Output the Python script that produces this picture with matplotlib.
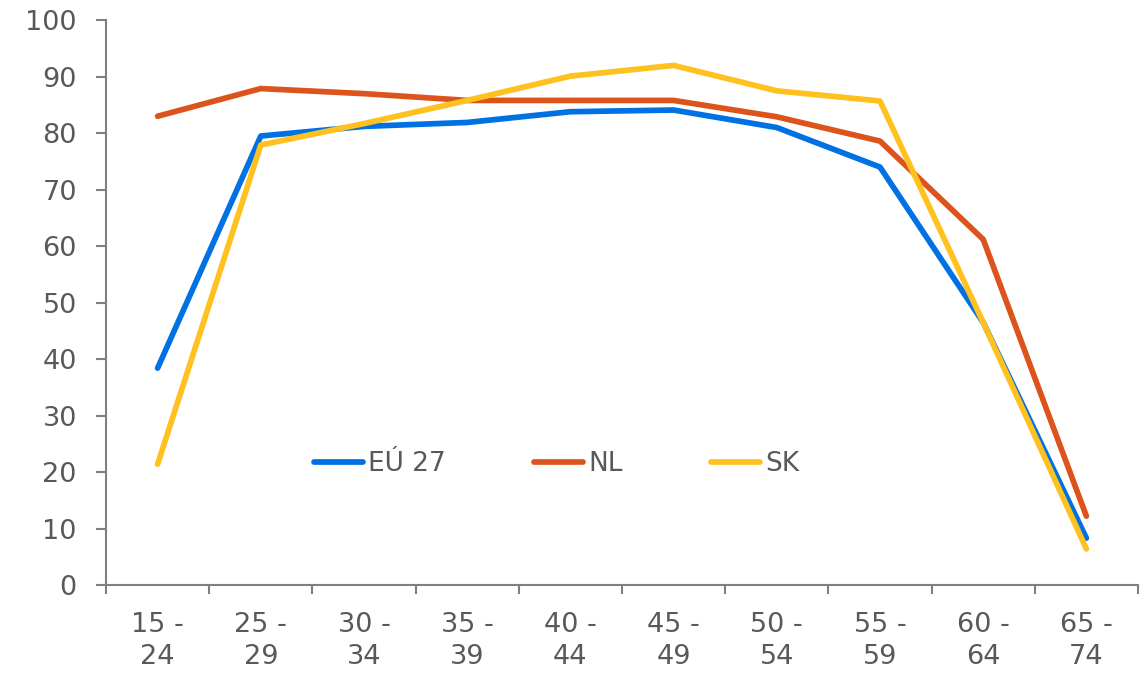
import matplotlib
matplotlib.use("Agg")
import matplotlib.pyplot as plt
import numpy as np

# ============================================================
# DATA
# ============================================================

age_groups = ["15 -\n24", "25 -\n29", "30 -\n34", "35 -\n39", "40 -\n44",
              "45 -\n49", "50 -\n54", "55 -\n59", "60 -\n64", "65 -\n74"]

eu27 = [38.4, 79.5, 81.2, 81.9, 83.8, 84.1, 81.0, 74.0, 46.5, 8.3]
nl = [83.0, 87.9, 87.0, 85.8, 85.8, 85.8, 82.9, 78.6, 61.2, 12.2]
sk = [21.4, 77.9, 81.7, 85.8, 90.1, 92.0, 87.5, 85.7, 46.5, 6.4]

series_names = ["EÚ 27", "NL", "SK"]
colors = ["#0071E3", "#DD531C", "#FFC11F"]

TEXT_COLOR = "#595959"
AXIS_COLOR = "#808080"
FS = 19.5

plt.rcParams["font.family"] = ["DejaVu Sans"]

fig = plt.figure(figsize=(11.46, 6.74), dpi=100)
ax = fig.add_axes([0.0925, 0.132, 0.9005, 0.838])

x = np.arange(len(age_groups)) + 0.5
for vals, name, col in zip([eu27, nl, sk], series_names, colors):
    ax.plot(x, vals, color=col, linewidth=4.1, label=name,
            solid_capstyle="round", solid_joinstyle="round")

ax.set_xlim(0, len(age_groups))
ax.set_ylim(0, 100)
ax.set_yticks(np.arange(0, 101, 10))

# category boundaries as major ticks, labels on minor ticks at centres
ax.set_xticks(np.arange(0, len(age_groups) + 1))
ax.set_xticklabels([])
ax.set_xticks(x, minor=True)
ax.set_xticklabels(age_groups, minor=True, linespacing=1.28)

ax.tick_params(axis="x", which="major", length=6.5, width=1.5, color=AXIS_COLOR)
ax.tick_params(axis="x", which="minor", length=0, pad=19.5,
               labelsize=FS, labelcolor=TEXT_COLOR)
ax.tick_params(axis="y", length=7, width=1.5, color=AXIS_COLOR, pad=14,
               labelsize=FS, labelcolor=TEXT_COLOR)

for side in ["top", "right"]:
    ax.spines[side].set_visible(False)
for side in ["left", "bottom"]:
    ax.spines[side].set_color(AXIS_COLOR)
    ax.spines[side].set_linewidth(1.5)

ax.legend(loc="center", bbox_to_anchor=(0.437, 0.214), ncol=3, frameon=False,
          fontsize=19, labelcolor=TEXT_COLOR, handlelength=1.85,
          handletextpad=0.2, columnspacing=3.35)

fig.savefig("out.png", dpi=100)
